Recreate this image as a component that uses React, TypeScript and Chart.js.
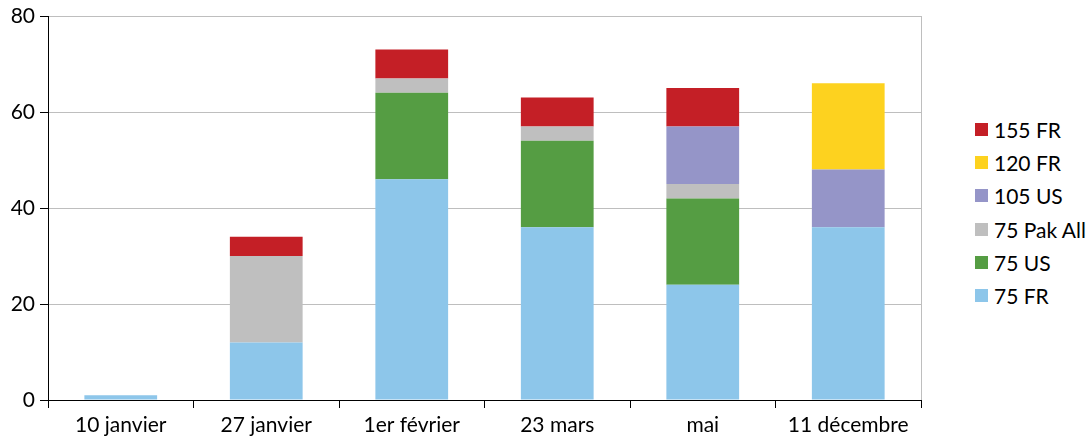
import React, { useEffect, useRef } from "react";
import { Chart, registerables } from "chart.js";

Chart.register(...registerables);

const categories = ["10 janvier", "27 janvier", "1er février", "23 mars", "mai", "11 décembre"];
const fr75 = [1, 12, 46, 36, 24, 36];
const us75 = [0, 0, 18, 18, 18, 0];
const pak75 = [0, 18, 3, 3, 3, 0];
const us105 = [0, 0, 0, 0, 12, 12];
const fr120 = [0, 0, 0, 0, 0, 18];
const fr155 = [0, 4, 6, 6, 8, 0];
const yTicks = [0, 20, 40, 60, 80];

const seriesNames = ["75 FR", "75 US", "75 Pak All", "105 US", "120 FR", "155 FR"];
const seriesColors = ["#8DC6EA", "#559D43", "#BFBFBF", "#9595C8", "#FDD21F", "#C41F26"];
const seriesData = [fr75, us75, pak75, us105, fr120, fr155];

const FONT = "Lato, 'Liberation Sans', sans-serif";

const rightBorder = {
  id: "rightBorder",
  afterDatasetsDraw(chart: any) {
    const { ctx, chartArea } = chart;
    ctx.save();
    ctx.strokeStyle = "#BEBEBE";
    ctx.lineWidth = 1;
    ctx.beginPath();
    ctx.moveTo(Math.round(chartArea.right) + 0.5, chartArea.top);
    ctx.lineTo(Math.round(chartArea.right) + 0.5, chartArea.bottom);
    ctx.stroke();
    ctx.restore();
  },
};

export default function App() {
  const ref = useRef<HTMLCanvasElement>(null);
  useEffect(() => {
    const chart = new Chart(ref.current!, {
      type: "bar",
      data: {
        labels: categories,
        datasets: seriesNames.map((label, i) => ({
          label,
          data: seriesData[i],
          backgroundColor: seriesColors[i],
          borderWidth: 0,
          barPercentage: 0.5,
          categoryPercentage: 1,
        })),
      },
      options: {
        animation: false,
        responsive: true,
        maintainAspectRatio: false,
        layout: { padding: { top: 0, left: 0, right: 9, bottom: 0 } },
        plugins: {
          tooltip: { enabled: false },
          legend: { display: false },
        },
        scales: {
          x: {
            stacked: true,
            afterFit: (scale: any) => {
              scale.height = 39;
            },
            grid: {
              offset: true,
              drawOnChartArea: false,
              drawTicks: true,
              tickLength: 8,
              tickColor: "#000",
            },
            border: { color: "#000", width: 1 },
            ticks: { color: "#000", font: { family: FONT, size: 21, lineHeight: 1 }, padding: 7 },
          },
          y: {
            stacked: true,
            min: 0,
            max: 80,
            afterFit: (scale: any) => {
              scale.width = 48;
              scale.paddingTop = 16;
              scale.paddingBottom = 0;
            },
            afterBuildTicks: (axis: any) => {
              axis.ticks = yTicks.map((v) => ({ value: v }));
            },
            grid: {
              color: "#BEBEBE",
              tickColor: "#000",
              tickLength: 8,
            },
            border: { color: "#000", width: 1 },
            ticks: { color: "#000", font: { family: FONT, size: 21 }, padding: 5 },
          },
        },
      },
      plugins: [rightBorder],
    });
    return () => chart.destroy();
  }, []);

  const legendOrder = [5, 4, 3, 2, 1, 0];
  return (
    <div style={{ position: "fixed", left: 0, top: 0, width: 1090, height: 439, background: "#fff" }}>
      <div style={{ position: "absolute", left: 0, top: 0, width: 930, height: 439 }}>
        <canvas ref={ref} />
      </div>
      {legendOrder.map((idx, i) => (
        <div
          key={seriesNames[idx]}
          style={{
            position: "absolute",
            left: 975,
            top: 116 + i * 33.2,
            height: 27,
            display: "flex",
            alignItems: "center",
            fontFamily: FONT,
            fontSize: 21,
            color: "#000",
            whiteSpace: "nowrap",
          }}
        >
          <span style={{ display: "inline-block", width: 13, height: 13, background: seriesColors[idx], marginRight: 6 }} />
          <span>{seriesNames[idx]}</span>
        </div>
      ))}
    </div>
  );
}
